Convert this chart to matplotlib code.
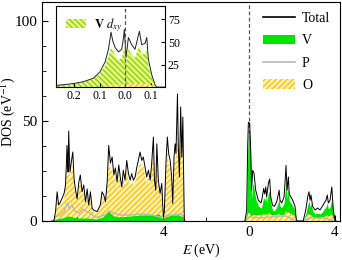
import numpy as np
import matplotlib
matplotlib.use("Agg")
import matplotlib.pyplot as plt
from matplotlib.lines import Line2D
from matplotlib.patches import Patch

plt.rcParams["font.family"] = ["Liberation Serif", "DejaVu Serif"]
plt.rcParams["mathtext.fontset"] = "stix"
plt.rcParams["hatch.linewidth"] = 1.0

# ---- valence band (E in eV) ----
E_val = [-9.2, -9.08, -9.0, -8.93, -8.86, -8.8, -8.7, -8.6, -8.54, -8.5,
         -8.47, -8.44, -8.42, -8.39, -8.36, -8.33, -8.27, -8.2, -8.14, -8.08,
         -8.0, -7.92, -7.85, -7.77, -7.69, -7.61, -7.53, -7.46, -7.38, -7.3,
         -7.22, -7.07, -6.92, -6.84, -6.76, -6.68, -6.6, -6.53, -6.45, -6.37,
         -6.29, -6.22, -6.14, -6.06, -5.98, -5.92, -5.85, -5.77, -5.69, -5.61,
         -5.53, -5.46, -5.38, -5.3, -5.22, -5.15, -5.07, -4.99, -4.92, -4.84,
         -4.76, -4.68, -4.6, -4.53, -4.45, -4.4, -4.34, -4.29, -4.22, -4.14,
         -4.06, -4.01, -3.98, -3.94, -3.86, -3.8, -3.74, -3.67, -3.6, -3.55,
         -3.49, -3.44, -3.4, -3.33, -3.29, -3.24, -3.18, -3.13, -3.08, -3.04,
         -3.01, -2.98]
tot_val = [0, 0, 5, 14.6, 8, 9, 11.3, 14, 18, 28,
           37.8, 30, 24.5, 45, 33, 24.5, 29.5, 34.5, 21, 16,
           11, 19.5, 23, 14.6, 18, 9.6, 16, 8, 14.6, 6.3,
           5.4, 4.7, 8, 14.6, 13, 9.6, 19.5, 37.8, 29, 32,
           23, 26.5, 19.5, 28, 21, 17, 25.4, 20.4, 30.3, 23.7,
           20.4, 23.7, 20.4, 22, 27, 30.3, 34.5, 30.3, 32, 27,
           22, 25.4, 20.4, 28.7, 42, 20.4, 15.4, 38.6, 20.4, 13.8,
           18.8, 7, 2, 5, 30.3, 42, 33.7, 30.3, 22, 8.8,
           32, 38.6, 33.7, 63.5, 37, 22, 57, 32, 52, 20.4,
           0, 0]
O_val = [0, 0, 4, 12, 7, 7.5, 9.5, 12, 15.5, 23,
         30, 25, 21, 32, 27, 21, 25, 28, 18, 14,
         9.5, 17, 20, 12.5, 15.5, 8, 14, 7, 12.5, 5.5,
         4.5, 4, 7, 12.5, 11, 8.5, 17, 31, 25, 27,
         20, 23, 17, 24, 18.5, 15, 22, 18, 26, 20.5,
         18, 20.5, 18, 19, 23.5, 26, 29.5, 26, 27.5, 23.5,
         19, 22, 18, 25, 34, 18, 13.5, 32, 18, 12,
         16, 6, 1.5, 4.5, 26, 35, 29, 26, 19, 7.5,
         27, 32, 29, 48, 31, 19.5, 45, 28, 41, 18,
         0, 0]
E_val_v = [-9.1, -9.0, -8.7, -8.4, -8.0, -7.5, -7.1, -6.8, -6.55, -6.3,
           -6.0, -5.5, -5.0, -4.5, -4.2, -4.0, -3.9, -3.6, -3.3, -3.05, -3.0]
V_val = [0, 1, 1.5, 2.5, 1.5, 1.5, 1, 2, 5, 2.5,
         2, 2.5, 3, 3, 3.5, 1, 2, 3, 3, 2, 0]
E_val_p = [-9.1, -9.0, -8.8, -8.6, -8.45, -8.35, -8.25, -8.1, -7.9, -7.75,
           -7.6, -7.4, -7.2, -7.0, -6.7, -6.5, -6.3, -6.0, -5.5, -5.0,
           -4.5, -4.0, -3.8, -3.5, -3.2, -3.02, -3.0]
P_val = [0, 2, 3, 5, 9, 6, 8, 5, 4, 6,
         5, 4, 2, 2, 3, 5, 4, 3, 3, 3.5,
         3, 1.5, 3, 3, 3.5, 2, 0]

# ---- conduction band ----
E_con = [-0.22, -0.19, -0.11, -0.06, -0.03, 0.03, 0.08, 0.12, 0.17, 0.23,
         0.31, 0.43, 0.56, 0.62, 0.68, 0.73, 0.78, 0.82, 0.9, 0.96,
         1.01, 1.09, 1.18, 1.29, 1.4, 1.44, 1.52, 1.63, 1.69, 1.72,
         1.77, 1.83, 1.87, 1.95, 2.03, 2.14, 2.2, 2.25, 2.45, 2.52,
         2.64, 2.73, 2.79, 2.84, 2.88, 2.96, 3.07, 3.19, 3.3, 3.41,
         3.5, 3.58, 3.64, 3.69, 3.77, 3.85, 3.92, 4.0, 4.05]
tot_con = [0, 0, 5.5, 38.7, 49.4, 48.8, 35, 15.4, 25.4, 24,
           15.4, 10.4, 9, 12, 16.3, 13.5, 17, 12, 18.8, 21,
           12, 8, 7.3, 9.6, 15.4, 10.4, 9, 12, 22, 27.8,
           15.4, 22, 13.5, 12, 10.4, 7.3, 0.5, 0, 0, 0,
           5.5, 12, 14.6, 10.4, 13, 7.3, 5.5, 6.5, 5.5, 7.3,
           9, 10.4, 13, 9, 10.4, 17, 5.5, 0, 0]
V_con = [0, 0, 4.5, 33, 44, 43, 30, 11, 19, 17,
         11, 7.5, 6.5, 8.5, 12, 10, 12.5, 9, 14, 15,
         9, 5.5, 5, 7, 11, 7.5, 6.5, 9, 16, 20,
         11, 16, 10, 9, 7.5, 5, 0.3, 0, 0, 0,
         3.5, 8, 10, 7, 9, 5, 3.5, 4, 3.5, 4.5,
         6, 7, 9, 6, 7, 11, 3.5, 0, 0]
O_con = [0, 0, 1, 3, 4, 4, 3, 2, 3, 3,
         3, 3, 3, 3, 3.5, 3, 3.5, 3, 3.5, 4,
         3, 3, 3, 3, 3.5, 3, 3, 3, 4, 5,
         4, 4.5, 4, 3.5, 3, 2.5, 0, 0, 0, 0,
         1.5, 3, 3.5, 3, 3, 2, 1.5, 1.5, 1.5, 2,
         2, 2.5, 3, 2.5, 2.5, 3.5, 1.5, 0, 0]
E_con_p = [-0.2, 0.0, 0.5, 1.0, 1.7, 2.2, 2.5, 2.8, 3.5, 3.95]
P_con = [0, 2, 1.5, 2, 2.5, 0, 0, 1.5, 1.5, 0]

# ---- inset: V d_xy near E = 0 ----
E_ins = [-0.27, -0.2, -0.163, -0.124, -0.098, -0.078, -0.065, -0.058, -0.055, -0.048,
         -0.039, -0.026, -0.013, -0.006, -0.003, 0.004, 0.013, 0.026, 0.039, 0.05,
         0.056, 0.065, 0.078, 0.085, 0.091, 0.105, 0.118, 0.125, 0.16]
tot_ins = [1.8, 4, 6, 9.8, 17, 28, 42, 55, 61, 51,
           44, 39, 42, 55, 64, 33, 55, 47, 42, 55,
           62, 47, 48.5, 55, 31, 13, 2, 0, 0]
dxy_ins = [1.5, 3.5, 5.5, 9, 15, 24, 34, 40, 44, 40,
           35, 30, 32, 40, 45, 27, 42, 36, 32, 42,
           45, 36, 37, 40, 25, 10, 1.5, 0, 0]
O_ins = [0, 0, 0, 0, 0, 0.5, 1, 1.5, 2, 2,
         2, 2.5, 2.5, 3, 3, 3, 3, 3.5, 3.5, 3.5,
         3.5, 3.5, 3.5, 3, 3, 2, 0.5, 0, 0]

GREEN = "#00e400"
O_FACE, O_HATCH = "#fff0b8", "#ffc400"
P_COL = "#b8b8b8"
DXY_FACE, DXY_HATCH = "#e4f98a", "#8fd400"

fig = plt.figure(figsize=(3.42, 2.6), dpi=100)
ax = fig.add_axes([0.123, 0.15, 0.871, 0.842])

ax.axvline(0, color="#555555", lw=0.9, ls=(0, (3, 2)), zorder=0.5)
# valence: O underneath, small V strip on top
ax.fill_between(E_val, O_val, facecolor=O_FACE, edgecolor=O_HATCH,
                hatch="//////", lw=0, zorder=1)
ax.fill_between(E_val_v, V_val, color=GREEN, lw=0, zorder=2)
# conduction: V underneath, small O strip on top
ax.fill_between(E_con, V_con, color=GREEN, lw=0, zorder=1)
ax.fill_between(E_con, O_con, facecolor=O_FACE, edgecolor=O_HATCH,
                hatch="//////", lw=0, zorder=2)
for E, P in [(E_val_p, P_val), (E_con_p, P_con)]:
    ax.plot(E, P, color=P_COL, lw=1.0, zorder=3)
for E, T in [(E_val, tot_val), (E_con, tot_con)]:
    ax.plot(E, T, color="k", lw=0.7, zorder=4)

ax.set_xlim(-9.63, 4.23)
ax.set_ylim(0, 109.5)
ax.set_xticks([-4, 0, 4])
ax.set_xticklabels(["4", "0", "4"])
ax.set_xticks([-8, -6, -2, 2], minor=True)
ax.set_yticks([0, 50, 100])
ax.set_yticks(np.arange(0, 110, 12.5), minor=True)
ax.tick_params(which="both", direction="in", labelsize=11)
ax.tick_params(which="major", length=4)
ax.tick_params(which="minor", length=3)
ax.set_xlabel("$E$ (eV)", fontsize=10)
ax.xaxis.set_label_coords(0.534, -0.095)
ax.set_ylabel("DOS (eV$^{-1}$)", fontsize=10)
ax.yaxis.set_label_coords(-0.083, 0.5)

handles = [Line2D([], [], color="k", lw=1.2),
           Patch(facecolor=GREEN, edgecolor="none"),
           Line2D([], [], color=P_COL, lw=1.2),
           Patch(facecolor=O_FACE, edgecolor=O_HATCH, hatch="//////", lw=0)]
ax.legend(handles, ["Total", "V", "P", "O"], loc="upper right",
          bbox_to_anchor=(1.0, 1.0), frameon=False, fontsize=10,
          handlelength=2.3, labelspacing=0.68, handletextpad=0.5,
          borderaxespad=0.3)

# inset
ax2 = fig.add_axes([0.164, 0.665, 0.319, 0.312])
ax2.fill_between(E_ins, dxy_ins, facecolor=DXY_FACE, edgecolor=DXY_HATCH,
                 hatch="\\\\\\\\\\\\", lw=0, zorder=1)
ax2.fill_between(E_ins, O_ins, facecolor=O_FACE, edgecolor=O_HATCH,
                 hatch="//////", lw=0, zorder=2)
ax2.plot(E_ins, tot_ins, color="#222222", lw=0.7, zorder=3)
ax2.axvline(0, color="#555555", lw=0.9, ls=(0, (3, 2)), zorder=4)
ax2.set_xlim(-0.27, 0.157)
ax2.set_ylim(0, 90)
ax2.set_xticks([-0.2, -0.1, 0.0, 0.1])
ax2.set_xticklabels(["0.2", "0.1", "0.0", "0.1"])
ax2.set_yticks([25, 50, 75])
ax2.yaxis.tick_right()
ax2.tick_params(direction="in", labelsize=8.5, length=3, pad=2)
ax2.legend([Patch(facecolor=DXY_FACE, edgecolor=DXY_HATCH,
                  hatch="\\\\\\\\\\\\", lw=0)],
           [r"$\mathbf{V}$ $d_{xy}$"], loc="upper left", frameon=False,
           fontsize=9, handlelength=1.6, handletextpad=0.6,
           borderaxespad=0.4)

fig.savefig("out.png", dpi=100)
